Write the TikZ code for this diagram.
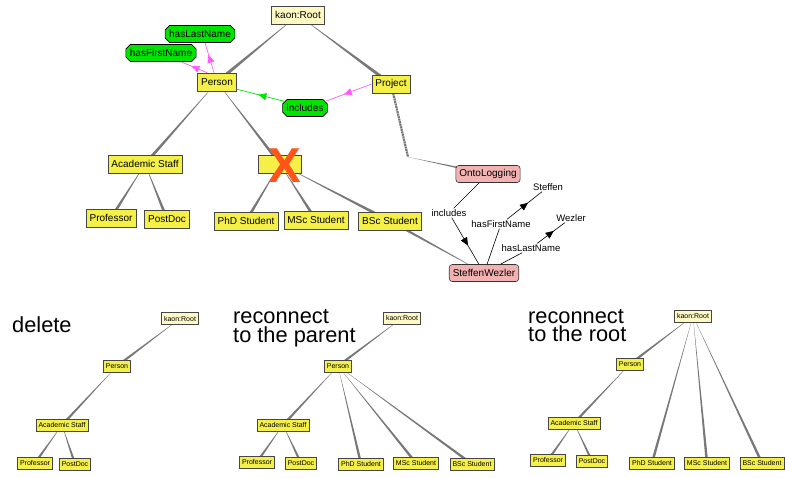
\documentclass[tikz,border=0pt]{standalone}
\usepackage{fontspec}
\setmainfont{Liberation Sans}
\usetikzlibrary{calc,shapes.misc,arrows.meta,decorations.markings,backgrounds}
\definecolor{yel}{RGB}{245,240,72}
\definecolor{rootc}{RGB}{255,250,195}
\definecolor{grn}{RGB}{0,228,0}
\definecolor{pnk}{RGB}{242,178,178}
\definecolor{mag}{RGB}{255,90,255}
\definecolor{edgec}{RGB}{120,120,120}
\definecolor{xorange}{RGB}{255,85,25}
\definecolor{boxline}{RGB}{70,70,70}
\newcommand\tedge[3][1.6]{\fill[edgec] (#2.center) -- ($(#3.center)!#1pt!90:(#2.center)$) -- ($(#3.center)!#1pt!-90:(#2.center)$) -- cycle;}
\tikzset{
  cls/.style={draw=boxline, fill=yel, font=\fontsize{10}{12}\selectfont, inner xsep=3.5pt, inner ysep=0pt, minimum height=18pt, line width=0.7pt},
  rootbox/.style={cls, fill=rootc},
  scls/.style={draw=boxline, fill=yel, font=\fontsize{7}{8}\selectfont, inner xsep=2.5pt, inner ysep=0pt, minimum height=12pt, line width=0.6pt},
  sroot/.style={scls, fill=rootc},
  prop/.style={chamfered rectangle, chamfered rectangle xsep=1.5pt, chamfered rectangle ysep=3pt, draw=black, fill=grn, font=\fontsize{10}{12}\selectfont, inner xsep=2.5pt, inner ysep=0pt, minimum height=17pt, line width=0.6pt},
  inst/.style={draw=black!80, fill=pnk, rounded corners=3pt, font=\fontsize{10}{12}\selectfont, inner xsep=3.5pt, inner ysep=0pt, minimum height=17pt, line width=0.6pt},
  lbl/.style={font=\fontsize{9.5}{11}\selectfont, inner sep=1pt},
  ttl/.style={font=\fontsize{21.8}{21.8}\selectfont, inner sep=0pt, anchor=base west},
  midarrow/.style={postaction={decorate}, decoration={markings, mark=at position #1 with {\arrow{Triangle[length=8pt,width=7pt]}}}},
}
\begin{document}
\begin{tikzpicture}[x=1pt,y=-1pt]
\useasboundingbox (0,0) rectangle (785,477);
% ---------- top diagram ----------
\node[rootbox] (root) at (298,15) {kaon:Root};
\node[prop] (hln) at (200,34) {hasLastName};
\node[prop] (hfn) at (161,53) {hasFirstName};
\node[cls] (person) at (217,82) {Person};
\node[cls] (project) at (391,84) {Project};
\node[prop] (incl) at (305,108) {includes};
\node[cls] (acad) at (145,164) {Academic Staff};
\node[cls, minimum width=43pt] (student) at (280,164) {};
\node[cls] (prof) at (111,218) {Professor};
\node[cls] (postdoc) at (167,219) {PostDoc};
\node[cls] (phd) at (246,221) {PhD Student};
\node[cls] (msc) at (316,220) {MSc Student};
\node[cls] (bsc) at (390,221) {BSc Student};
\node[inst] (onto) at (488,174) {OntoLogging};
\node[inst] (sw) at (484,273) {SteffenWezler};
\node[lbl] (steffen) at (548,187) {Steffen};
\node[lbl] (wezler) at (571,218) {Wezler};
\node[lbl] (lincl) at (449,213) {includes};
\node[lbl] (lfn) at (501,224) {hasFirstName};
\node[lbl] (lln) at (531,248) {hasLastName};
\coordinate (bend) at (408,157);
\node[text=xorange, font=\fontsize{49}{49}\selectfont\bfseries, inner sep=0pt] (xmark) at (285,166) {X};

\begin{pgfonlayer}{background}
\tedge[1.8]{root}{person}
\tedge[1.8]{root}{project}
\tedge{person}{acad}
\tedge{person}{student}
\tedge{acad}{prof}
\tedge{acad}{postdoc}
\tedge{student}{phd}
\tedge{student}{msc}
\tedge{student}{bsc}
\tedge[1.4]{sw}{bsc}
\tedge[1.2]{bend}{onto}
\draw[edgec, line width=2.2pt, dash pattern=on 2pt off 0.6pt] (project) -- (bend);
\end{pgfonlayer}

\draw[mag, line width=0.7pt, midarrow=0.6] ([xshift=-10pt]person.north) -- ([xshift=20pt]hfn.south);
\draw[mag, line width=0.7pt, midarrow=0.6] ([xshift=-3pt]person.north) -- ([xshift=5pt]hln.south);
\draw[mag, line width=0.7pt, midarrow=0.6] (project.west) -- (incl.18);
\draw[green!90!black, line width=0.7pt, midarrow=0.55] (incl.162) -- (person.-20);

\draw[line width=0.6pt] (onto) -- (lincl);
\draw[line width=0.6pt, midarrow=0.6] (lincl) -- (sw);
\draw[line width=0.6pt] (sw) -- (lfn);
\draw[line width=0.6pt, midarrow=0.6] (lfn) -- (steffen);
\draw[line width=0.6pt] (sw) -- (lln);
\draw[line width=0.6pt, midarrow=0.6] (lln) -- (wezler);

% ---------- panel 1: delete ----------
\node[ttl] (t1) at (12,332) {delete};
\node[sroot] (aroot) at (180,318.5) {kaon:Root};
\node[scls] (aperson) at (117,366) {Person};
\node[scls] (aacad) at (62,425) {Academic Staff};
\node[scls] (aprof) at (35,463) {Professor};
\node[scls] (apost) at (75,464) {PostDoc};
\begin{pgfonlayer}{background}
\tedge[1.3]{aroot}{aperson}
\tedge[1.3]{aperson}{aacad}
\tedge[1.3]{aacad}{aprof}
\tedge[1.3]{aacad}{apost}
\end{pgfonlayer}

% ---------- panel 2: reconnect to the parent ----------
\node[ttl] (t2a) at (233,323.5) {reconnect};
\node[ttl] (t2b) at (233,342) {to the parent};
\node[sroot] (broot) at (402,318) {kaon:Root};
\node[scls] (bperson) at (338,366) {Person};
\node[scls] (bacad) at (283,425) {Academic Staff};
\node[scls] (bprof) at (257,462) {Professor};
\node[scls] (bpost) at (301,463) {PostDoc};
\node[scls] (bphd) at (361,464) {PhD Student};
\node[scls] (bmsc) at (416,463) {MSc Student};
\node[scls] (bbsc) at (472,464) {BSc Student};
\begin{pgfonlayer}{background}
\tedge[1.3]{broot}{bperson}
\tedge[1.3]{bperson}{bacad}
\tedge[1.3]{bperson}{bphd}
\tedge[1.3]{bperson}{bmsc}
\tedge[1.3]{bperson}{bbsc}
\tedge[1.3]{bacad}{bprof}
\tedge[1.3]{bacad}{bpost}
\end{pgfonlayer}

% ---------- panel 3: reconnect to the root ----------
\node[ttl] (t3a) at (528,323) {reconnect};
\node[ttl] (t3b) at (528,341.5) {to the root};
\node[sroot] (croot) at (693,316) {kaon:Root};
\node[scls] (cperson) at (630,364) {Person};
\node[scls] (cacad) at (574,423) {Academic Staff};
\node[scls] (cprof) at (548,460) {Professor};
\node[scls] (cpost) at (592,461) {PostDoc};
\node[scls] (cphd) at (652,463) {PhD Student};
\node[scls] (cmsc) at (707,463) {MSc Student};
\node[scls] (cbsc) at (762,463) {BSc Student};
\begin{pgfonlayer}{background}
\tedge[1.3]{croot}{cperson}
\tedge[1.3]{croot}{cphd}
\tedge[1.3]{croot}{cmsc}
\tedge[1.3]{croot}{cbsc}
\tedge[1.3]{cperson}{cacad}
\tedge[1.3]{cacad}{cprof}
\tedge[1.3]{cacad}{cpost}
\end{pgfonlayer}
\end{tikzpicture}
\end{document}
